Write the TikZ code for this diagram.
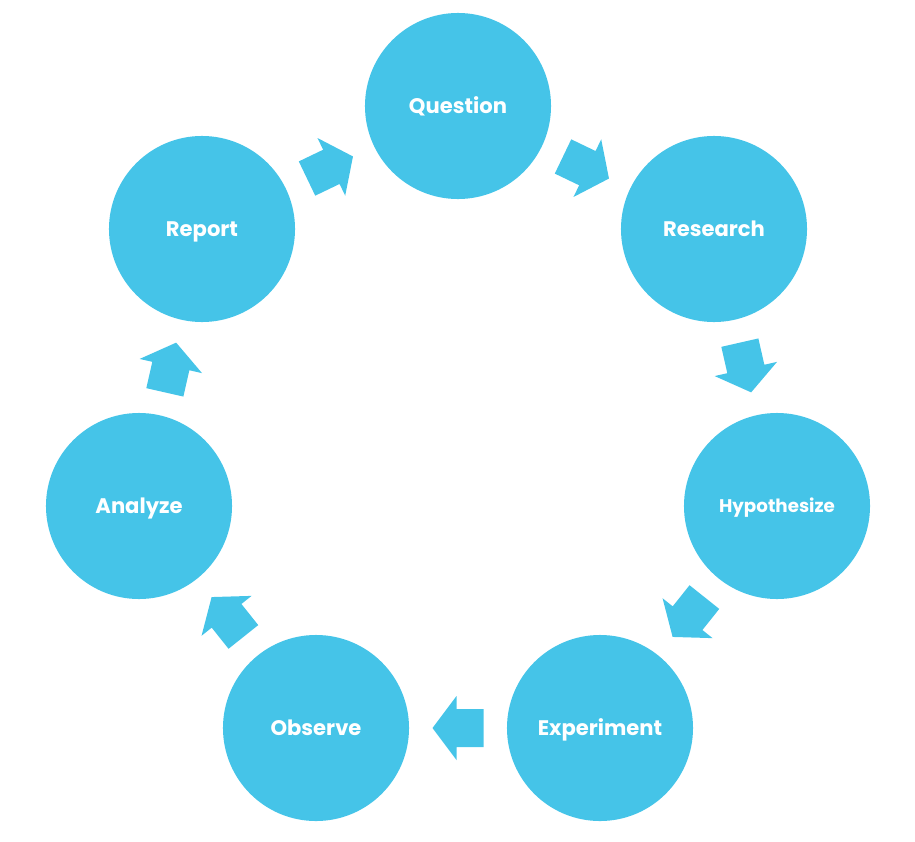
\documentclass[tikz,border=0pt]{standalone}
\usepackage{fontspec}
\setmainfont{Poppins}
\definecolor{stepblue}{RGB}{69,196,232}
\tikzset{
    stage/.style={circle, fill=stepblue, minimum size=4.65cm, inner sep=0pt,
        text=white, text height=10pt, text depth=0pt,
        font=\bfseries\fontsize{15}{17}\selectfont},
    fatarrow/.pic={
        \fill[stepblue] (-25.5,-19) -- (1.5,-19) -- (1.5,-32) -- (25.5,0)
            -- (1.5,32) -- (1.5,19) -- (-25.5,19) -- cycle;
    }
}
\begin{document}
\begin{tikzpicture}[x=0.025cm, y=-0.025cm]
    \useasboundingbox (0,0) rectangle (915,842);

    % the seven stages, clockwise from the top
    \node[stage] (question) at (458,106) {Question};
    \node[stage] (research) at (714,229) {Research};
    \node[stage, text height=9pt, font=\bfseries\fontsize{13}{15}\selectfont] (hypothesize) at (777,506) {Hypothesize};
    \node[stage] (experiment) at (600,728) {Experiment};
    \node[stage] (observe) at (316,728) {Observe};
    \node[stage] (analyze) at (139,506) {Analyze};
    \node[stage] (report) at (202,229) {Report};

    % the block arrows between them
    \path (question) -- pic[sloped, allow upside down] {fatarrow} (research);
    \path (research) -- pic[sloped, allow upside down] {fatarrow} (hypothesize);
    \path (hypothesize) -- pic[sloped, allow upside down] {fatarrow} (experiment);
    \path (experiment) -- pic[sloped, allow upside down] {fatarrow} (observe);
    \path (observe) -- pic[sloped, allow upside down] {fatarrow} (analyze);
    \path (analyze) -- pic[sloped, allow upside down] {fatarrow} (report);
    \path (report) -- pic[sloped, allow upside down] {fatarrow} (question);
\end{tikzpicture}
\end{document}
